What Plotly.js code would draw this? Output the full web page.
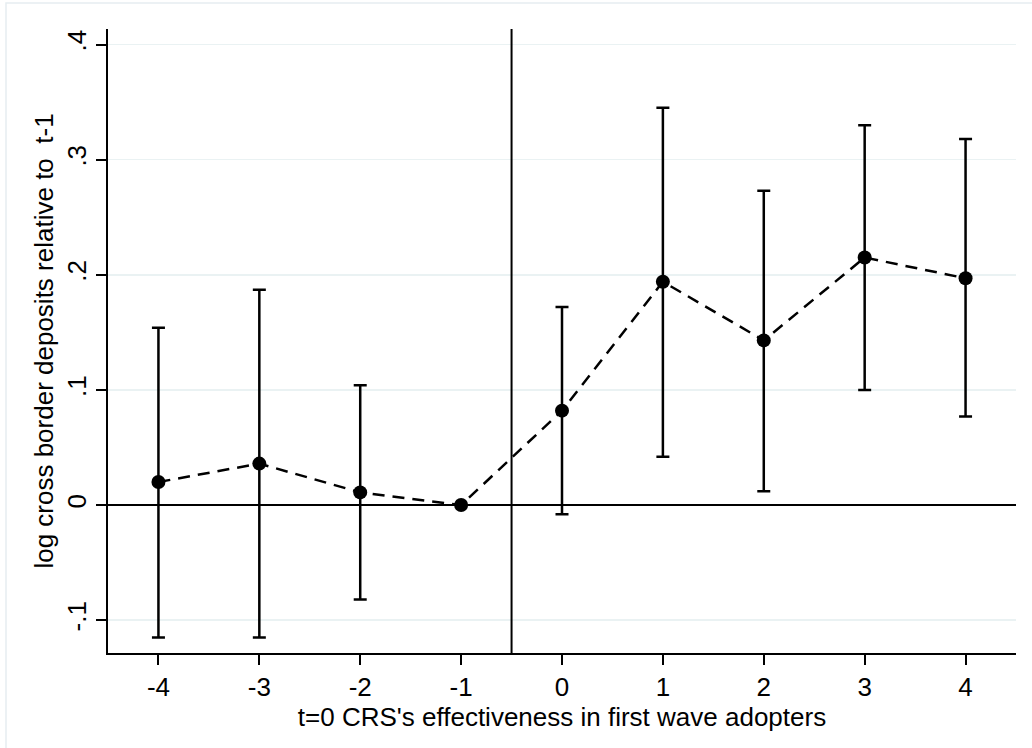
<!DOCTYPE html>
<html>
<head>
<meta charset="utf-8">
<script src="https://cdn.plot.ly/plotly-3.0.1.min.js"></script>
<style>html,body{margin:0;padding:0;background:#fff;}#chart{width:1032px;height:748px;}</style>
</head>
<body>
<div id="chart"></div>
<script>
var periods = [-4, -3, -2, -1, 0, 1, 2, 3, 4];
var coef    = [0.020, 0.036, 0.011, 0.000, 0.082, 0.194, 0.143, 0.215, 0.197];
var ciHigh  = [0.154, 0.187, 0.104, 0.000, 0.172, 0.345, 0.273, 0.330, 0.318];
var ciLow   = [-0.115, -0.115, -0.082, 0.000, -0.008, 0.042, 0.012, 0.100, 0.077];
var xTickVals = [-4, -3, -2, -1, 0, 1, 2, 3, 4];
var xTickText = ["-4", "-3", "-2", "-1", "0", "1", "2", "3", "4"];
var yTickVals = [-0.1, 0, 0.1, 0.2, 0.3, 0.4];
var yTickText = ["-.1", "0", ".1", ".2", ".3", ".4"];
var xTitle = "t=0 CRS's effectiveness in first wave adopters";
var yTitle = "log cross border deposits relative to  t-1";

var plus = coef.map(function(c, i){ return ciHigh[i] - c; });
var minus = coef.map(function(c, i){ return c - ciLow[i]; });
var hasBar = coef.map(function(c, i){ return ciHigh[i] !== ciLow[i]; });

var traces = [
  {
    x: periods, y: coef, type: 'scatter', mode: 'lines',
    line: {color: '#000', width: 2.5, dash: '12px,8px'},
    hoverinfo: 'skip', showlegend: false
  },
  {
    x: periods.filter(function(_, i){ return hasBar[i]; }),
    y: coef.filter(function(_, i){ return hasBar[i]; }),
    type: 'scatter', mode: 'none',
    error_y: {type: 'data', symmetric: false,
      array: plus.filter(function(_, i){ return hasBar[i]; }),
      arrayminus: minus.filter(function(_, i){ return hasBar[i]; }),
      color: '#000', thickness: 2.5, width: 6.5},
    showlegend: false
  },
  {
    x: periods, y: coef, type: 'scatter', mode: 'markers',
    marker: {color: '#000', size: 14, line: {width: 0}},
    showlegend: false
  }
];

var fontFam = '"Liberation Sans", Arial, sans-serif';
var layout = {
  width: 1032, height: 748,
  margin: {l: 108, r: 16, t: 29, b: 95, pad: 0},
  paper_bgcolor: '#fff', plot_bgcolor: '#fff',
  font: {family: fontFam, color: '#000', size: 26},
  showlegend: false,
  xaxis: {
    range: [-4.5, 4.5], tickvals: xTickVals, ticktext: xTickText,
    showgrid: false, zeroline: false,
    showline: true, linecolor: '#000', linewidth: 2,
    ticks: 'outside', ticklen: 10, tickwidth: 2, tickcolor: '#000',
    tickfont: {size: 26, family: fontFam},
    title: {text: xTitle, font: {size: 26, family: fontFam}, standoff: 0}
  },
  yaxis: {
    range: [-0.1285, 0.4135], tickvals: yTickVals, ticktext: yTickText,
    tickangle: -90,
    showgrid: true, gridcolor: '#eaf2f3', gridwidth: 1.5, zeroline: false,
    showline: true, linecolor: '#000', linewidth: 2,
    ticks: 'outside', ticklen: 10, tickwidth: 2, tickcolor: '#000',
    tickfont: {size: 26, family: fontFam},
    title: {text: yTitle, font: {size: 26, family: fontFam}, standoff: 0}
  },
  shapes: [
    {type: 'line', xref: 'x', yref: 'paper', x0: -0.5, x1: -0.5, y0: 0, y1: 1,
     line: {color: '#000', width: 2}, layer: 'above'},
    {type: 'line', xref: 'paper', yref: 'y', x0: 0, x1: 1, y0: 0, y1: 0,
     line: {color: '#000', width: 2}, layer: 'above'},
    {type: 'rect', xref: 'paper', yref: 'paper',
     x0: (6 - 108) / 908, x1: (1040 - 108) / 908,
     y0: (653 - 760) / 624, y1: (653 - 3) / 624,
     line: {color: '#e6edf1', width: 1.5}, fillcolor: 'rgba(0,0,0,0)', layer: 'below'}
  ]
};

Plotly.newPlot('chart', traces, layout, {displayModeBar: false, staticPlot: true});
</script>
</body>
</html>
